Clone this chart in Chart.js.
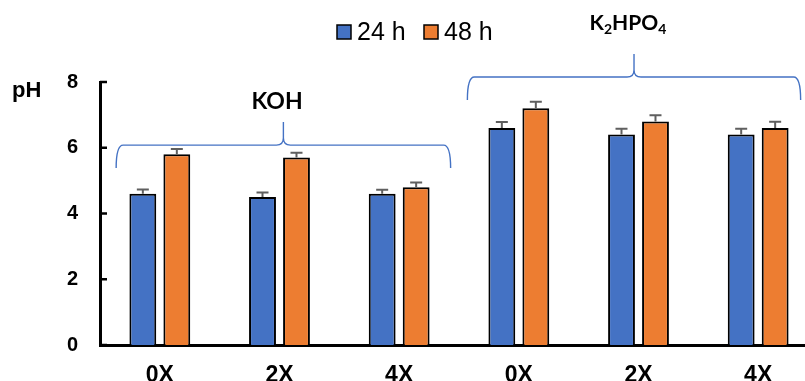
<!DOCTYPE html>
<html>
<head>
<meta charset="utf-8">
<script src="https://cdn.jsdelivr.net/npm/chart.js@4/dist/chart.umd.min.js"></script>
<style>
  html, body { margin: 0; padding: 0; background: #fff; }
  #wrap { width: 805px; height: 381px; position: relative; overflow: hidden; }
  #c { position: absolute; left: 0; top: 0; }
</style>
</head>
<body>
<div id="wrap"><canvas id="c" width="820" height="381"></canvas></div>
<script>
// pH of the medium after 24 h and 48 h, by additive dose
const categories = ['0X', '2X', '4X', '0X', '2X', '4X'];
const seriesNames = ['24 h', '48 h'];
const ph24h = [4.6, 4.5, 4.6, 6.6, 6.4, 6.4];
const ph48h = [5.8, 5.7, 4.8, 7.2, 6.8, 6.6];
const err24h = [0.13, 0.14, 0.12, 0.18, 0.18, 0.18];
const err48h = [0.16, 0.15, 0.14, 0.20, 0.19, 0.19];
const yTicks = [0, 2, 4, 6, 8];
// each group: name and the category indices it spans
const groups = [
  { name: 'KOH', first: 0, last: 2 },
  { name: 'K2HPO4', first: 3, last: 5 }
];

const BLUE = '#4472C4';
const ORANGE = '#ED7D31';
const errors = [err24h, err48h];

// Error bars drawn on top of each bar
const errorBars = {
  id: 'errorBars',
  afterDatasetsDraw(chart) {
    const ctx = chart.ctx;
    const y = chart.scales.y;
    ctx.save();
    ctx.strokeStyle = '#5f5f5f';
    ctx.lineWidth = 2;
    chart.data.datasets.forEach((ds, di) => {
      const meta = chart.getDatasetMeta(di);
      meta.data.forEach((bar, i) => {
        const top = y.getPixelForValue(ds.data[i] + errors[di][i]);
        ctx.beginPath();
        ctx.moveTo(bar.x, bar.y);
        ctx.lineTo(bar.x, top);
        ctx.moveTo(bar.x - 6, top);
        ctx.lineTo(bar.x + 6, top);
        ctx.stroke();
      });
    });
    ctx.restore();
  }
};

// Inward tick marks, axis title, legend, group braces and group labels
const decorations = {
  id: 'decorations',
  afterDraw(chart) {
    const ctx = chart.ctx;
    const x = chart.scales.x;
    const y = chart.scales.y;
    const area = chart.chartArea;
    ctx.save();

    // tick marks on the inner side of the y axis
    ctx.strokeStyle = '#000';
    ctx.lineWidth = 2.5;
    yTicks.forEach(v => {
      const py = y.getPixelForValue(v);
      ctx.beginPath();
      ctx.moveTo(area.left, py);
      ctx.lineTo(area.left + 7, py);
      ctx.stroke();
    });

    // axis title
    ctx.fillStyle = '#000';
    ctx.font = 'bold 22px "Liberation Sans", Arial, sans-serif';
    ctx.textAlign = 'left';
    ctx.textBaseline = 'alphabetic';
    ctx.fillText('pH', 12, 97);

    // legend
    const colors = [BLUE, ORANGE];
    const legendX = [337, 424];
    ctx.font = '25px "Liberation Sans", Arial, sans-serif';
    seriesNames.forEach((name, i) => {
      ctx.fillStyle = colors[i];
      ctx.fillRect(legendX[i], 25, 14, 14);
      ctx.strokeStyle = '#000';
      ctx.lineWidth = 1.5;
      ctx.strokeRect(legendX[i], 25, 14, 14);
      ctx.fillStyle = '#000';
      ctx.fillText(name, legendX[i] + 20, 39.5);
    });

    // braces over each group (ends given in category units)
    const braceEnds = [[-0.365, 2.43], [2.57, 5.355]];
    const braceLevels = [6.08, 8.15];
    const x0 = x.getPixelForValue(0);
    const step = x.getPixelForValue(1) - x0;
    ctx.strokeStyle = BLUE;
    ctx.lineWidth = 1.4;
    groups.forEach((g, gi) => {
      const left = x0 + braceEnds[gi][0] * step;
      const right = x0 + braceEnds[gi][1] * step;
      const mid = (left + right) / 2;
      const yh = y.getPixelForValue(braceLevels[gi]);
      const yEnd = yh + 23;
      const yPeak = yh - 23;
      const r = 7;
      ctx.beginPath();
      ctx.moveTo(left, yEnd);
      ctx.quadraticCurveTo(left, yh, left + r, yh);
      ctx.lineTo(mid - r, yh);
      ctx.quadraticCurveTo(mid, yh, mid, yh - r);
      ctx.lineTo(mid, yPeak);
      ctx.moveTo(mid, yh - r);
      ctx.quadraticCurveTo(mid, yh, mid + r, yh);
      ctx.lineTo(right - r, yh);
      ctx.quadraticCurveTo(right, yh, right, yEnd);
      ctx.stroke();
    });

    // group labels
    ctx.fillStyle = '#000';
    ctx.textAlign = 'center';
    ctx.font = 'bold 23px Lato, "Open Sans", sans-serif';
    ctx.fillText('KOH', 277, 109);

    // K2HPO4 with subscripts
    const big = 'bold 21px Lato, "Open Sans", sans-serif';
    const small = 'bold 14px Lato, "Open Sans", sans-serif';
    const parts = [['K', big, 0], ['2', small, 4], ['HPO', big, 0], ['4', small, 4]];
    let total = 0;
    parts.forEach(p => { ctx.font = p[1]; total += ctx.measureText(p[0]).width; });
    let cx = 628 - total / 2;
    ctx.textAlign = 'left';
    parts.forEach(p => {
      ctx.font = p[1];
      ctx.fillText(p[0], cx, 29.5 + p[2]);
      cx += ctx.measureText(p[0]).width;
    });

    ctx.restore();
  }
};

new Chart(document.getElementById('c'), {
  type: 'bar',
  data: {
    labels: categories,
    datasets: [
      {
        label: seriesNames[0],
        data: ph24h,
        backgroundColor: BLUE,
        borderColor: '#000',
        borderWidth: 2,
        barPercentage: 0.79,
        categoryPercentage: 0.568
      },
      {
        label: seriesNames[1],
        data: ph48h,
        backgroundColor: ORANGE,
        borderColor: '#000',
        borderWidth: 2,
        barPercentage: 0.79,
        categoryPercentage: 0.568
      }
    ]
  },
  options: {
    responsive: false,
    animation: false,
    devicePixelRatio: 1,
    layout: { padding: { top: 82, right: 2, left: 0, bottom: 0 } },
    plugins: { legend: { display: false }, tooltip: { enabled: false } },
    scales: {
      x: {
        grid: { display: false, drawTicks: false, tickLength: 0 },
        border: { display: true, color: '#000', width: 3 },
        ticks: {
          color: '#000',
          padding: 17,
          font: { family: '"Liberation Sans", Arial, sans-serif', weight: 'bold', size: 23 }
        },
        afterFit(s) { s.height = 36; }
      },
      y: {
        min: 0,
        max: 8,
        afterBuildTicks(s) { s.ticks = yTicks.map(v => ({ value: v })); },
        grid: { display: false, drawTicks: false, tickLength: 0 },
        border: { display: true, color: '#000', width: 3 },
        ticks: {
          color: '#000',
          padding: 22,
          font: { family: '"Liberation Sans", Arial, sans-serif', weight: 'bold', size: 20 }
        },
        afterFit(s) { s.width = 100; }
      }
    }
  },
  plugins: [errorBars, decorations]
});
</script>
</body>
</html>
